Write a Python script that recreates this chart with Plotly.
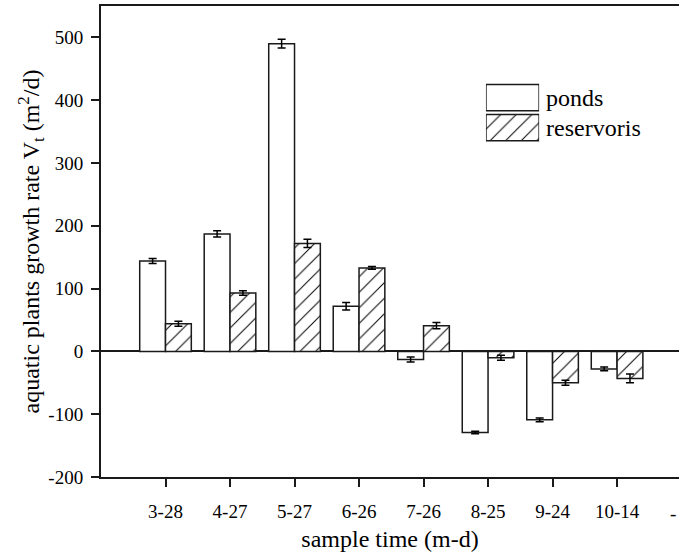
import plotly.graph_objects as go

categories = ["3-28", "4-27", "5-27", "6-26", "7-26", "8-25", "9-24", "10-14"]
ponds = [144, 187, 490, 72, -13, -129, -109, -28]
ponds_err = [4, 5, 7, 6, 4, 2, 3, 3]
reservoirs = [44, 93, 172, 133, 41, -10, -50, -43]
reservoirs_err = [4, 3.5, 6.5, 2, 5, 4, 4, 7]
series_names = ["ponds", "reservoris"]
series_patterns = ["", "/"]
legend_len = [1, 1]
y_ticks = [-200, -100, 0, 100, 200, 300, 400, 500]
y_ticktext = ["-200", "-100", "0", "100", "200", "300", "400", "500"]

FONT = "Liberation Serif, Times New Roman, serif"
LINE = "#1a1a1a"
PAT = dict(fgcolor="black", bgcolor="white", fgopacity=1, size=11, solidity=0.09)

fig = go.Figure()
for vals, errs, pat, name in [(ponds, ponds_err, series_patterns[0], series_names[0]),
                              (reservoirs, reservoirs_err, series_patterns[1], series_names[1])]:
    fig.add_trace(go.Bar(
        x=categories, y=vals, name=name, showlegend=False,
        marker=dict(color="white", line=dict(color=LINE, width=1.5),
                    pattern=dict(shape=pat, **PAT)),
        error_y=dict(type="data", array=errs, visible=True, color="black",
                     thickness=1.5, width=4),
    ))

# legend swatches drawn as bars on an overlay axis
fig.add_trace(go.Bar(
    x=legend_len, y=series_names, orientation="h", xaxis="x2", yaxis="y2",
    width=0.87, showlegend=False, hoverinfo="skip",
    marker=dict(color="white", line=dict(color=LINE, width=1.5),
                pattern=dict(shape=series_patterns, **PAT)),
))

fig.update_layout(
    width=679, height=552,
    margin=dict(l=101, r=0, t=6, b=75, autoexpand=False),
    paper_bgcolor="white", plot_bgcolor="white",
    font=dict(family=FONT, color="black", size=19),
    barmode="group", bargap=0.2, bargroupgap=0,
    showlegend=False,
    xaxis=dict(
        type="category", categoryarray=categories, range=[-1, 7.96],
        showline=True, linecolor=LINE, linewidth=2, mirror=True,
        ticks="outside", ticklen=8, tickwidth=2, tickcolor=LINE,
        showgrid=False, zeroline=False, automargin=False,
        tickfont=dict(size=19), ticklabelstandoff=8,
        title=dict(text="sample time (m-d)", font=dict(size=24), standoff=14),
    ),
    yaxis=dict(
        range=[-200, 550], tickvals=y_ticks, ticktext=y_ticktext,
        showline=True, linecolor=LINE, linewidth=2, mirror=False,
        ticks="outside", ticklen=8, tickwidth=2, tickcolor=LINE,
        showgrid=False, zeroline=True, zerolinecolor=LINE, zerolinewidth=2,
        automargin=False,
        tickfont=dict(size=19), ticklabelstandoff=4,
        title=dict(text="aquatic plants growth rate V<sub>t</sub> (m<sup>2</sup>/d)",
                   font=dict(size=24), standoff=0),
    ),
    xaxis2=dict(domain=[0.666, 0.758], range=[0, 1], anchor="y2",
                visible=False, fixedrange=True),
    yaxis2=dict(domain=[0.7099, 0.8374], anchor="x2", side="right",
                type="category", autorange="reversed", automargin=False,
                showline=False, showgrid=False, zeroline=False, ticks="",
                tickfont=dict(size=24), ticklabelstandoff=6, fixedrange=True),
)

# partially visible label of the next (cropped) category at the right edge
fig.add_annotation(text="-", xref="paper", yref="paper", x=1.0, y=0, yshift=-24,
                   xshift=-1, xanchor="right", yanchor="top", showarrow=False,
                   font=dict(size=19, family=FONT))

fig.write_html("out.html", config={"displayModeBar": False},
               post_script="document.body.style.margin='0';document.body.style.overflow='hidden';")
